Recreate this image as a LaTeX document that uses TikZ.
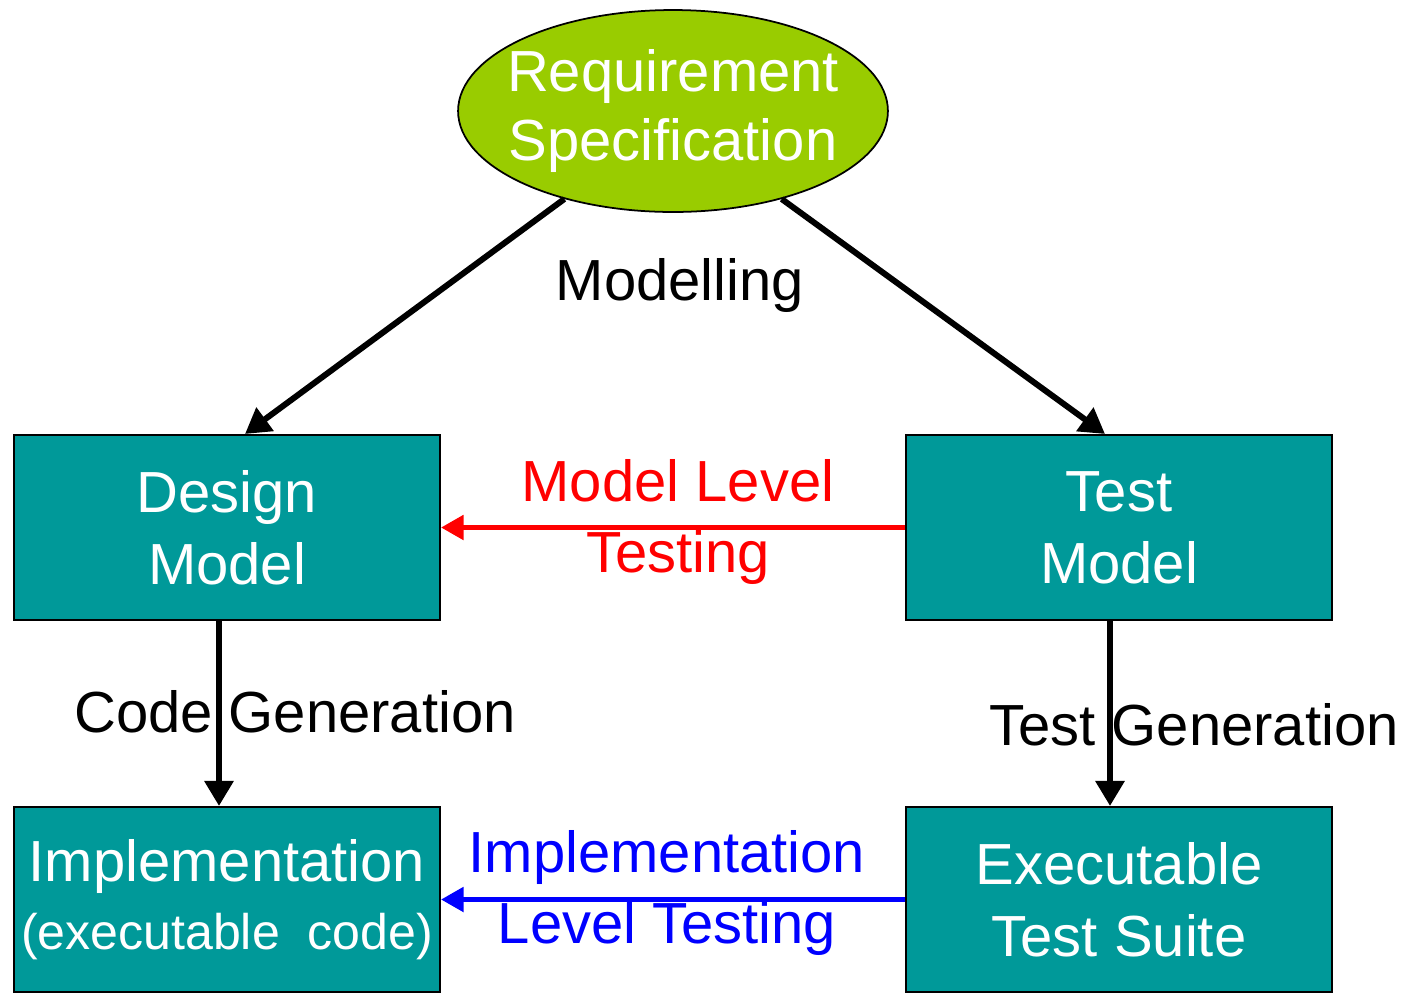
\documentclass[tikz,border=0pt]{standalone}
\usepackage{fontspec}
\setmainfont{Liberation Sans}
\usetikzlibrary{arrows.meta,positioning,shapes.geometric}
\definecolor{specgreen}{HTML}{99CC00}
\definecolor{boxteal}{HTML}{009999}
\tikzset{
  spec/.style={ellipse,draw=black,line width=1pt,fill=specgreen,text=white,align=center,minimum width=8.56cm,minimum height=4.04cm,inner xsep=-.28cm,inner ysep=0pt,font=\fontsize{33}{39}\selectfont},
  modelbox/.style={draw=black,line width=1.2pt,fill=boxteal,text=white,align=center,minimum width=8.52cm,minimum height=3.7cm,inner sep=0pt,font=\fontsize{33}{41}\selectfont},
  lbl/.style={align=center,inner sep=0pt,font=\fontsize{33}{40}\selectfont},
  flow/.style={-{Triangle[length=.5cm,width=.56cm]},line width=.12cm},
  testflow/.style={-{Triangle[length=.45cm,width=.48cm]},line width=.1cm},
}

\begin{document}
\begin{tikzpicture}[x=0.02cm,y=-0.02cm]
    \useasboundingbox (0,0) rectangle (1410,992);
    \node[spec] (req) at (673,111) {Requirement\\Specification};
    \node[modelbox] (dm) at (227,527.5) {Design\\Model};
    \node[modelbox] (tm) at (1119,527.5) {Test\\Model};
    \node[modelbox] (impl) at (227,899.5) {Implementation\\[-2pt]{\fontsize{28.5}{34}\selectfont(executable\ \ code)}};
    \node[modelbox] (ets) at (1119,899.5) {Executable\\Test Suite};
    % labels
    \node[lbl] (mdl) at (680,285) {Modelling};
    \node[lbl,text=red] (mlt) at (678,522) {Model Level\\Testing};
    \node[lbl] (cg) at (295,712) {Code Generation};
    \node[lbl] (tg) at (1194,725) {Test Generation};
    \node[lbl,text=blue] (ilt) at (667,893) {Implementation\\Level Testing};
    % connectors
    \draw[flow] (req.219.5) -- ([xshift=.36cm]dm.north);
    \draw[flow] (req.-39) -- ([xshift=-.28cm]tm.north);
    \draw[flow] ([xshift=-.16cm]dm.south) -- ([xshift=-.16cm]impl.north);
    \draw[flow] ([xshift=-.18cm]tm.south) -- ([xshift=-.18cm]ets.north);
    \draw[testflow,red] (tm.west) -- (dm.east);
    \draw[testflow,blue] (ets.west) -- (impl.east);
  \end{tikzpicture}
\end{document}
